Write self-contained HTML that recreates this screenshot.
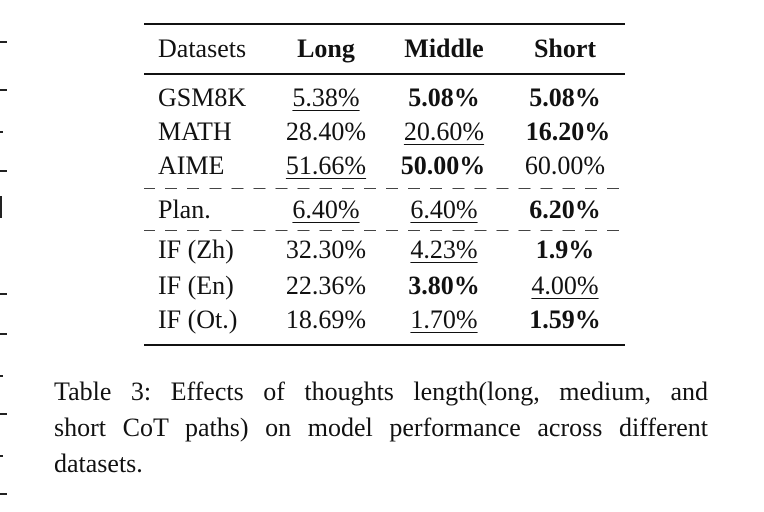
<!DOCTYPE html>
<html><head><meta charset="utf-8"><style>
body{margin:0;width:764px;height:512px;background:#fff;position:relative;overflow:hidden;font-family:"Liberation Serif",serif;color:#111}
.c{position:absolute;font-size:26px;transform:translate(-50%,-50%);white-space:nowrap;line-height:1}
.l{position:absolute;font-size:26px;transform:translateY(-50%);white-space:nowrap;line-height:1}
b{font-weight:bold}
u{text-decoration:underline;text-decoration-thickness:1px;text-underline-offset:4px}
.rule{position:absolute;left:144px;width:481px;background:#111}
.dash{position:absolute;left:144px;width:481px;height:0;border-top:1.5px dashed #444}
.cap{position:absolute;left:54px;width:654px;font-size:26px;line-height:36px}
.tick{position:absolute;left:0;width:7px;height:2px;background:#222}
</style></head><body>
<div class="rule" style="top:23px;height:2px"></div>
<div class="rule" style="top:73px;height:1.5px"></div>
<div class="dash" style="top:188px;border-top-style:dashed;border-image:repeating-linear-gradient(90deg,#444 0 12px,transparent 12px 22px) 1"></div>
<div class="dash" style="top:230px;border-image:repeating-linear-gradient(90deg,#444 0 12px,transparent 12px 22px) 1"></div>
<div class="rule" style="top:344px;height:2px"></div>

<span class="l" style="left:158px;top:49px">Datasets</span>
<span class="c" style="left:326px;top:49px"><b>Long</b></span>
<span class="c" style="left:444px;top:49px"><b>Middle</b></span>
<span class="c" style="left:565px;top:49px"><b>Short</b></span>

<div>
<span class="l" style="left:158px;top:98px">GSM8K</span>
<span class="c" style="left:326px;top:98px"><u>5.38%</u></span>
<span class="c" style="left:444px;top:98px"><b>5.08%</b></span>
<span class="c" style="left:565px;top:98px"><b>5.08%</b></span></div>
<div>
<span class="l" style="left:158px;top:132px">MATH</span>
<span class="c" style="left:326px;top:132px">28.40%</span>
<span class="c" style="left:444px;top:132px"><u>20.60%</u></span>
<span class="c" style="left:568px;top:132px"><b>16.20%</b></span></div>
<div>
<span class="l" style="left:158px;top:166px">AIME</span>
<span class="c" style="left:326px;top:166px"><u>51.66%</u></span>
<span class="c" style="left:443px;top:166px"><b>50.00%</b></span>
<span class="c" style="left:565px;top:166px">60.00%</span></div>
<div>
<span class="l" style="left:158px;top:210px">Plan.</span>
<span class="c" style="left:326px;top:210px"><u>6.40%</u></span>
<span class="c" style="left:444px;top:210px"><u>6.40%</u></span>
<span class="c" style="left:565px;top:210px"><b>6.20%</b></span></div>
<div>
<span class="l" style="left:158px;top:250px">IF (Zh)</span>
<span class="c" style="left:326px;top:250px">32.30%</span>
<span class="c" style="left:444px;top:250px"><u>4.23%</u></span>
<span class="c" style="left:565px;top:250px"><b>1.9%</b></span></div>
<div>
<span class="l" style="left:158px;top:286px">IF (En)</span>
<span class="c" style="left:326px;top:286px">22.36%</span>
<span class="c" style="left:444px;top:286px"><b>3.80%</b></span>
<span class="c" style="left:565px;top:286px"><u>4.00%</u></span></div>
<div>
<span class="l" style="left:158px;top:320px">IF (Ot.)</span>
<span class="c" style="left:326px;top:320px">18.69%</span>
<span class="c" style="left:444px;top:320px"><u>1.70%</u></span>
<span class="c" style="left:565px;top:320px"><b>1.59%</b></span></div>

<div class="cap" style="top:374px">
<div style="text-align:justify;text-align-last:justify">Table 3: Effects of thoughts length(long, medium, and</div>
<div style="text-align:justify;text-align-last:justify">short CoT paths) on model performance across different</div>
<div>datasets.</div>
</div>

<div class="tick" style="top:41px"></div><div class="tick" style="top:89px"></div>
<div class="tick" style="top:131px;width:3px"></div><div class="tick" style="top:170px"></div>
<div class="tick" style="top:196px;width:2px;height:22px"></div><div class="tick" style="top:293px"></div>
<div class="tick" style="top:333px"></div><div class="tick" style="top:375px;width:3px"></div>
<div class="tick" style="top:413px"></div><div class="tick" style="top:455px;width:3px"></div>
<div class="tick" style="top:493px"></div>
</body></html>
